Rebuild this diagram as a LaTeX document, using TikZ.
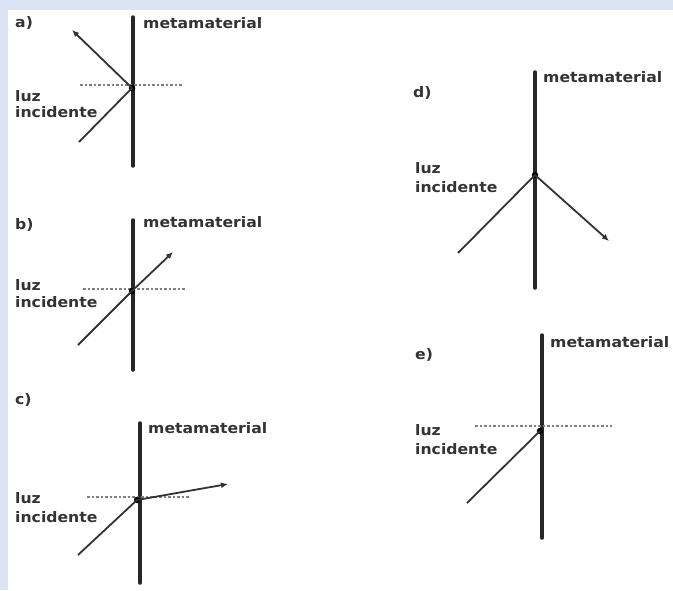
\documentclass[tikz,border=0pt]{standalone}
\usepackage{fontspec}
\usetikzlibrary{arrows.meta}
\newfontfamily\lblfont{DejaVu Sans}[FakeStretch=1.08]
\definecolor{framebg}{HTML}{DCE4F4}
\tikzset{
  wall/.style={line width=3.5pt, black!85, line cap=round},
  ray/.style={line width=1.8pt, black!80},
  arr/.style={ray, -{Latex[length=7pt,width=6pt]}},
  norm/.style={line width=1.6pt, black!50, dash pattern=on 2.5pt off 2pt},
  lbl/.style={font=\lblfont\bfseries\fontsize{14.5}{16}\selectfont, anchor=west, inner sep=0pt, text=black!80},
  jdot/.style={circle, fill=black, inner sep=0pt, minimum size=6.5pt}
}
\begin{document}
\begin{tikzpicture}[x=1pt,y=-1pt]
\useasboundingbox (0,0) rectangle (673,590);
\fill[framebg] (0,0) rectangle (673,590);
\fill[white] (8,10) rectangle (673,590);
% ---- a)
\node[lbl] (la) at (15,23) {a)};
\coordinate (aT) at (133,17); \coordinate (aB) at (133,166);
\draw[wall] (aT) -- (aB);
\coordinate (aNl) at (80,85); \coordinate (aNr) at (182,85);
\draw[norm] (aNl) -- (aNr);
\node[jdot] (aJ) at (132,88) {};
\coordinate (aI) at (79,142); \coordinate (aR) at (72,30);
\draw[ray] (aI) -- (aJ.center);
\draw[arr] (aJ.center) -- (aR);
\node[lbl] (ma) at (143,23) {metamaterial};
\node[lbl] (lza) at (15,96) {luz};
\node[lbl] (ina) at (15,112) {incidente};
% ---- b)
\node[lbl] (lb) at (15,225) {b)};
\coordinate (bT) at (133,220); \coordinate (bB) at (133,370);
\draw[wall] (bT) -- (bB);
\coordinate (bNl) at (83,289); \coordinate (bNr) at (185,289);
\draw[norm] (bNl) -- (bNr);
\node[jdot] (bJ) at (132,291) {};
\coordinate (bI) at (78,345); \coordinate (bR) at (173,252);
\draw[ray] (bI) -- (bJ.center);
\draw[arr] (bJ.center) -- (bR);
\node[lbl] (mb) at (143,222) {metamaterial};
\node[lbl] (lzb) at (15,285) {luz};
\node[lbl] (inb) at (15,302) {incidente};
% ---- c)
\node[lbl] (lc) at (15,400) {c)};
\coordinate (cT) at (140,423); \coordinate (cB) at (140,583);
\draw[wall] (cT) -- (cB);
\coordinate (cNl) at (87,497); \coordinate (cNr) at (190,497);
\draw[norm] (cNl) -- (cNr);
\node[jdot] (cJ) at (137,500) {};
\coordinate (cI) at (78,555); \coordinate (cR) at (228,484);
\draw[ray] (cI) -- (cJ.center);
\draw[arr] (cJ.center) -- (cR);
\node[lbl] (mc) at (148,428) {metamaterial};
\node[lbl] (lzc) at (15,498) {luz};
\node[lbl] (inc) at (15,517) {incidente};
% ---- d)
\node[lbl] (ld) at (413,93) {d)};
\coordinate (dT) at (535,72); \coordinate (dB) at (535,288);
\draw[wall] (dT) -- (dB);
\node[jdot] (dJ) at (535,175) {};
\coordinate (dI) at (458,253); \coordinate (dR) at (609,241);
\draw[ray] (dI) -- (dJ.center);
\draw[arr] (dJ.center) -- (dR);
\node[lbl] (md) at (543,77) {metamaterial};
\node[lbl] (lzd) at (415,168) {luz};
\node[lbl] (ind) at (415,187) {incidente};
% ---- e)
\node[lbl] (le) at (415,355) {e)};
\coordinate (eT) at (542,335); \coordinate (eB) at (542,538);
\draw[wall] (eT) -- (eB);
\coordinate (eNl) at (475,426); \coordinate (eNr) at (612,426);
\draw[norm] (eNl) -- (eNr);
\node[jdot] (eJ) at (540,431) {};
\coordinate (eI) at (467,503);
\draw[ray] (eI) -- (eJ.center);
\node[lbl] (me) at (550,342) {metamaterial};
\node[lbl] (lze) at (415,430) {luz};
\node[lbl] (ine) at (415,449) {incidente};
\end{tikzpicture}
\end{document}
